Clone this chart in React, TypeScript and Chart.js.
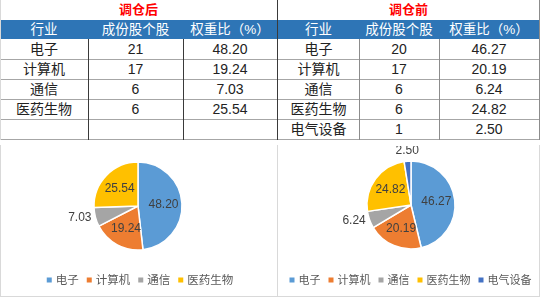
import React, { useEffect, useRef } from "react";
import { Chart, registerables } from "chart.js";

Chart.register(...registerables);

const afterCategories = ["电子", "计算机", "通信", "医药生物"];
const afterCounts = [21, 17, 6, 6];
const afterWeights = [48.2, 19.24, 7.03, 25.54];

const beforeCategories = ["电子", "计算机", "通信", "医药生物", "电气设备"];
const beforeCounts = [20, 17, 6, 6, 1];
const beforeWeights = [46.27, 20.19, 6.24, 24.82, 2.5];

const headers = ["行业", "成份股个股", "权重比（%）"];
const sliceColors = ["#5B9BD5", "#ED7D31", "#A5A5A5", "#FFC000", "#4472C4"];

const FONT = '"Liberation Sans", "Noto Sans CJK SC", sans-serif';

const labelPlugin = {
  id: "sliceLabels",
  afterDatasetsDraw(chart: any) {
    const ctx = chart.ctx;
    const meta = chart.getDatasetMeta(0);
    const data = chart.data.datasets[0].data as number[];
    ctx.save();
    ctx.font = `12px ${FONT}`;
    ctx.fillStyle = "#404040";
    meta.data.forEach((arc: any, i: number) => {
      const { x, y, startAngle, endAngle, outerRadius } = arc.getProps(
        ["x", "y", "startAngle", "endAngle", "outerRadius"],
        true
      );
      const mid = (startAngle + endAngle) / 2;
      const c = Math.cos(mid);
      const s = Math.sin(mid);
      const text = data[i].toFixed(2);
      if (data[i] >= 10) {
        const r = outerRadius * 0.58;
        ctx.textAlign = "center";
        ctx.textBaseline = "middle";
        ctx.fillText(text, x + c * r, y + s * r);
      } else {
        const r = outerRadius + 4;
        const px = x + c * r;
        const py = y + s * r;
        if (c < -0.3) {
          ctx.textAlign = "right";
          ctx.textBaseline = "middle";
        } else if (c > 0.3) {
          ctx.textAlign = "left";
          ctx.textBaseline = "middle";
        } else {
          ctx.textAlign = "center";
          ctx.textBaseline = s < 0 ? "bottom" : "top";
        }
        ctx.fillText(text, px, py);
      }
    });
    ctx.restore();
  },
};

const legendPlugin = {
  id: "flatLegend",
  afterDraw(chart: any, _args: any, opts: any) {
    const ctx = chart.ctx;
    const labels = chart.data.labels as string[];
    const colors = chart.data.datasets[0].backgroundColor as string[];
    const fs = opts.fontSize || 11.5;
    const box = 5;
    const boxGap = 4;
    const itemGap = opts.itemGap || 8;
    ctx.save();
    ctx.font = `${fs}px ${FONT}`;
    const widths = labels.map((l) => ctx.measureText(l).width);
    const total =
      widths.reduce((a, b) => a + b, 0) + labels.length * (box + boxGap) + (labels.length - 1) * itemGap;
    let x = (chart.width - total) / 2 + (opts.shift || 0);
    const y = opts.y;
    ctx.textBaseline = "middle";
    ctx.textAlign = "left";
    labels.forEach((l, i) => {
      ctx.fillStyle = colors[i];
      ctx.fillRect(x, y - box / 2, box, box);
      x += box + boxGap;
      ctx.fillStyle = "#595959";
      ctx.fillText(l, x, y + 0.5);
      x += widths[i] + itemGap;
    });
    ctx.restore();
  },
};

function PieChart({
  labels,
  values,
  width,
  padLeft,
  padBottom,
  legendFont,
  legendShift,
}: {
  labels: string[];
  values: number[];
  width: number;
  padLeft: number;
  padBottom: number;
  legendFont: number;
  legendShift: number;
}) {
  const ref = useRef<HTMLCanvasElement | null>(null);
  useEffect(() => {
    if (!ref.current) return;
    const chart = new Chart(ref.current, {
      type: "pie",
      data: {
        labels,
        datasets: [
          {
            data: values,
            backgroundColor: sliceColors.slice(0, values.length),
            borderColor: "#ffffff",
            borderWidth: 1.5,
          },
        ],
      },
      options: {
        animation: false,
        responsive: false,
        maintainAspectRatio: false,
        radius: 44,
        layout: { padding: { top: 0, bottom: padBottom, left: padLeft, right: 0 } },
        plugins: {
          tooltip: { enabled: false },
          legend: { display: false },
          flatLegend: { y: 134, fontSize: legendFont, itemGap: 8, shift: legendShift },
        },
      } as any,
      plugins: [labelPlugin, legendPlugin],
    });
    return () => chart.destroy();
  }, []);
  return (
    <canvas
      ref={ref}
      width={width}
      height={150}
      style={{ width, height: 150, display: "block" }}
    />
  );
}

function DataTable({
  left,
  cols,
  title,
  cats,
  counts,
  weights,
  vColor,
  rowsTotal,
}: {
  left: number;
  cols: number[];
  title: string;
  cats: string[];
  counts: number[];
  weights: number[];
  vColor: string;
  rowsTotal: number;
}) {
  const width = cols.reduce((a, b) => a + b, 0);
  const edges: number[] = [];
  let acc = 0;
  cols.forEach((w) => {
    edges.push(acc);
    acc += w;
  });
  const rows: (string | number)[][] = [];
  for (let i = 0; i < rowsTotal; i++) {
    if (i < cats.length) rows.push([cats[i], counts[i], weights[i].toFixed(2)]);
    else rows.push(["", "", ""]);
  }
  const els: any[] = [];
  els.push(
    <div
      key="title"
      style={{
        position: "absolute",
        left: 0,
        top: 0,
        width,
        height: 20,
        lineHeight: "20px",
        textAlign: "center",
        color: "#FF0000",
        fontWeight: "bold",
        fontSize: 13,
      }}
    >
      {title}
    </div>
  );
  els.push(
    <div
      key="hdrbg"
      style={{ position: "absolute", left: 0, top: 20, width, height: 19, background: "#2E75B6" }}
    />
  );
  headers.forEach((h, j) => {
    els.push(
      <div
        key={"h" + j}
        style={{
          position: "absolute",
          left: edges[j],
          top: 20,
          width: cols[j],
          height: 19,
          lineHeight: "19px",
          textAlign: "center",
          color: "#ffffff",
          fontSize: 13.5,
        }}
      >
        {h}
      </div>
    );
  });
  rows.forEach((r, i) => {
    const top = 39 + i * 20;
    els.push(
      <div
        key={"hl" + i}
        style={{ position: "absolute", left: 0, top: top + 20, width, height: 1, background: "#A6A6A6" }}
      />
    );
    r.forEach((v, j) => {
      els.push(
        <div
          key={"c" + i + "-" + j}
          style={{
            position: "absolute",
            left: edges[j],
            top: top + 1,
            width: cols[j],
            height: 19,
            lineHeight: "19px",
            textAlign: "center",
            color: "#222",
            fontSize: 14,
          }}
        >
          {v}
        </div>
      );
    });
  });
  for (let j = 1; j < cols.length; j++) {
    els.push(
      <div
        key={"vl" + j}
        style={{ position: "absolute", left: edges[j], top: 39, width: 1, height: rowsTotal * 20 + 1, background: vColor }}
      />
    );
  }
  return <div style={{ position: "absolute", left, top: 0, width, height: 141 }}>{els}</div>;
}

export default function App() {
  useEffect(() => {
    document.body.style.margin = "0";
  }, []);
  return (
    <div
      style={{
        position: "fixed",
        left: 0,
        top: 0,
        width: 542,
        height: 299,
        background: "#ffffff",
        fontFamily: FONT,
        overflow: "hidden",
      }}
    >
      <DataTable
        left={0}
        cols={[88, 95, 94]}
        title="调仓后"
        cats={afterCategories}
        counts={afterCounts}
        weights={afterWeights}
        vColor="#3A3A3A"
        rowsTotal={5}
      />
      <DataTable
        left={278}
        cols={[81, 80, 100]}
        title="调仓前"
        cats={beforeCategories}
        counts={beforeCounts}
        weights={beforeWeights}
        vColor="#8C8C8C"
        rowsTotal={5}
      />
      <div style={{ position: "absolute", left: 277, top: 0, width: 1, height: 140, background: "#3A3A3A" }} />
      <div style={{ position: "absolute", left: 539, top: 0, width: 1, height: 140, background: "#8C8C8C" }} />
      <div style={{ position: "absolute", left: 0, top: 0, width: 1, height: 140, background: "#D9D9D9" }} />
      <div
        style={{
          position: "absolute",
          left: 0,
          top: 145,
          width: 276,
          height: 151,
          borderLeft: "1px solid #D9D9D9",
          borderRight: "1px solid #D9D9D9",
          borderBottom: "1px solid #D9D9D9",
        }}
      >
        <div style={{ position: "absolute", left: 0, top: 1 }}>
          <PieChart
            labels={afterCategories}
            values={afterWeights}
            width={274}
            padLeft={0}
            padBottom={30}
            legendFont={11.5}
            legendShift={2}
          />
        </div>
      </div>
      <div
        style={{
          position: "absolute",
          left: 278,
          top: 145,
          width: 261,
          height: 151,
          borderRight: "1px solid #D9D9D9",
          borderBottom: "1px solid #D9D9D9",
        }}
      >
        <div style={{ position: "absolute", left: 0, top: 1 }}>
          <PieChart
            labels={beforeCategories}
            values={beforeWeights}
            width={261}
            padLeft={5}
            padBottom={32}
            legendFont={11}
            legendShift={2}
          />
        </div>
      </div>
    </div>
  );
}
